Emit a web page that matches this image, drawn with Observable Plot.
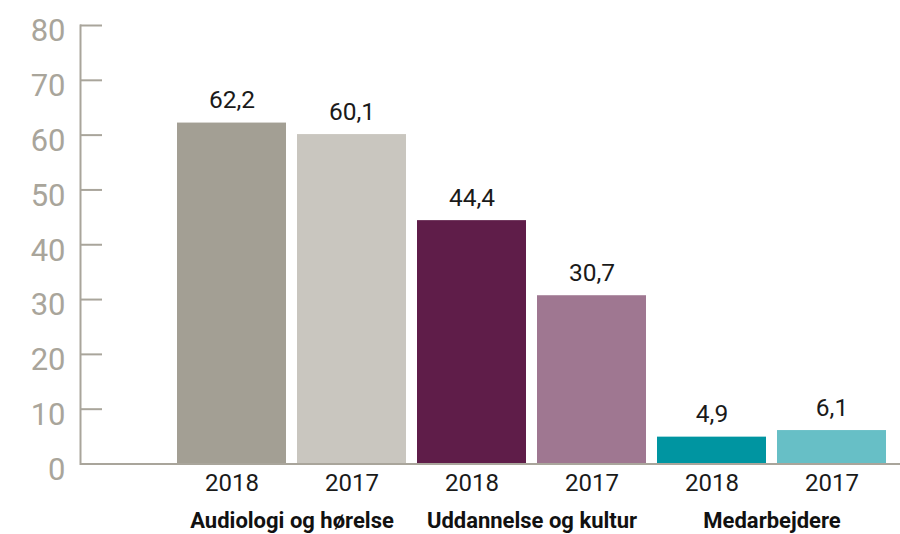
<!DOCTYPE html>
<html>
<head>
<meta charset="utf-8">
<script src="https://cdn.jsdelivr.net/npm/d3@7"></script>
<script src="https://cdn.jsdelivr.net/npm/@observablehq/plot@0.6"></script>
<style>
  html, body { margin: 0; padding: 0; background: #fff; }
  svg { display: block; }
</style>
</head>
<body>
<div id="chart"></div>
<script>
const groups = ["Audiologi og hørelse", "Uddannelse og kultur", "Medarbejdere"];
const years = ["2018", "2017"];
const values2018 = [62.2, 44.4, 4.9];
const values2017 = [60.1, 30.7, 6.1];
const yTicks = [0, 10, 20, 30, 40, 50, 60, 70, 80];
const palette = ["#a39f94", "#c9c6bf", "#5f1d49", "#9f7791", "#0095a1", "#67bfc6"];

const rows = [];
groups.forEach((g, i) => {
  rows.push({group: g, year: years[0], value: values2018[i], key: g + "|" + years[0]});
  rows.push({group: g, year: years[1], value: values2017[i], key: g + "|" + years[1]});
});
const keys = rows.map(d => d.key);

const W = 900, H = 534;
const mL = 171.5, mR = 7.8, mT = 25, mB = 70.5;
const axisGray = "#a9a59b";
const fmt = v => v.toFixed(1).replace(".", ",");

const chart = Plot.plot({
  width: W,
  height: H,
  marginLeft: mL,
  marginRight: mR,
  marginTop: mT,
  marginBottom: mB,
  style: {fontFamily: "Roboto, sans-serif", background: "#fff"},
  x: {domain: keys, paddingInner: 11 / 120, paddingOuter: 11 / 240, axis: null},
  y: {domain: [0, 80], axis: null},
  color: {domain: keys, range: palette},
  marks: [
    Plot.barY(rows, {x: "key", y: "value", fill: "key"}),
    // y axis line
    Plot.frame({anchor: "left", stroke: axisGray, strokeWidth: 2, insetLeft: -(mL - 80)}),
    // y ticks (pointing right)
    Plot.tickY(yTicks, {y: d => d, stroke: axisGray, strokeWidth: 2, insetLeft: -(mL - 80), insetRight: (W - mR) - 102}),
    // y tick labels
    Plot.axisY(yTicks, {tickSize: 0, tickPadding: 0, dx: 65 - mL, dy: 6, fontSize: 31, color: axisGray, tickFormat: d => String(d), label: null}),
    // x axis baseline
    Plot.ruleY([0], {stroke: axisGray, strokeWidth: 2, insetLeft: -(mL - 80), insetRight: -(mR)}),
    // year labels
    Plot.axisX({tickSize: 0, tickPadding: 9.5, fontSize: 24, color: "#1a1a1a", tickFormat: k => k.split("|")[1], label: null}),
    // value labels
    Plot.text(rows, {x: "key", y: "value", text: d => fmt(d.value), lineAnchor: "bottom", dy: -15, fontSize: 24.5, fill: "#1a1a1a"}),
    // group labels
    Plot.text(groups, {x: g => g + "|" + years[0], frameAnchor: "bottom", lineAnchor: "top", dy: 48, dx: 60, text: d => d, fontSize: 22, fontWeight: "bold", fill: "#111"})
  ]
});
document.getElementById("chart").appendChild(chart);
</script>
</body>
</html>
